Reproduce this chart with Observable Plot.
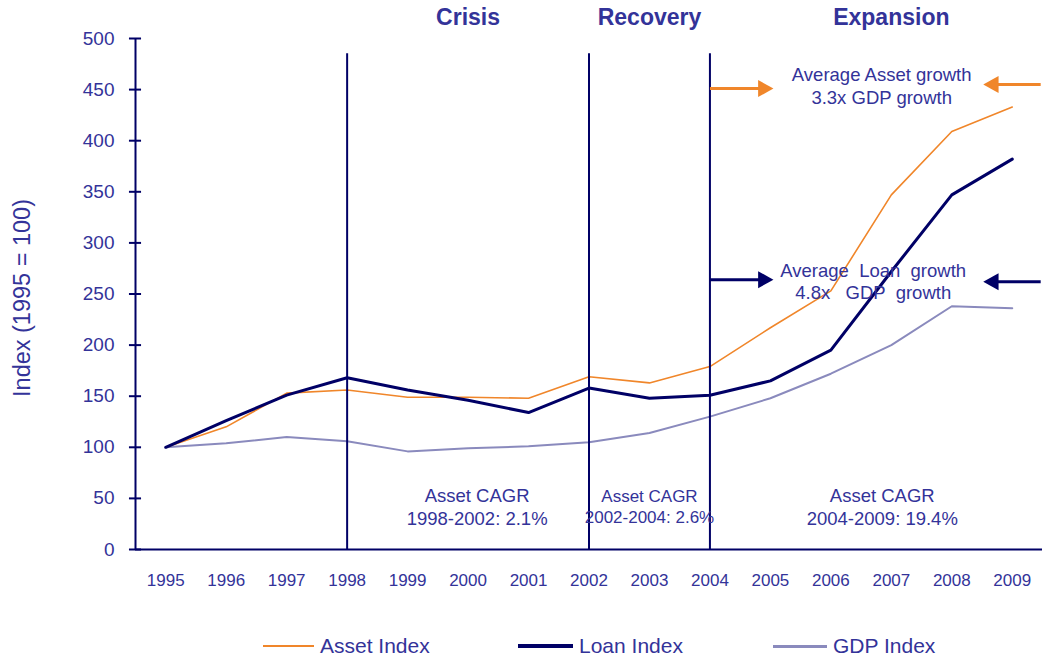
<!DOCTYPE html>
<html>
<head>
<meta charset="utf-8">
<script src="https://cdn.jsdelivr.net/npm/d3@7"></script>
<script src="https://cdn.jsdelivr.net/npm/@observablehq/plot@0.6"></script>
<style>
  html, body { margin: 0; padding: 0; background: #fff; }
  #wrap { position: relative; width: 1042px; height: 661px; font-family: "Liberation Sans", Arial, sans-serif; }
  svg text { white-space: pre; }
  .item { position: absolute; top: 634px; display: flex; align-items: center; font-size: 21px; color: #333399; }
  .sw { margin-right: 6px; }
</style>
</head>
<body>
<div id="wrap"></div>
<script>
// ---- data ----
const years = [1995, 1996, 1997, 1998, 1999, 2000, 2001, 2002, 2003, 2004, 2005, 2006, 2007, 2008, 2009];
const assetIndex = [100, 120, 153, 156, 149, 149, 148, 169, 163, 179, 217, 253, 347, 409, 433];
const loanIndex  = [100, 126, 151, 168, 156, 146, 134, 158, 148, 151, 165, 195, 272, 347, 382];
const gdpIndex   = [100, 104, 110, 106,  96,  99, 101, 105, 114, 130, 148, 172, 200, 238, 236];
const seriesNames = ["Asset Index", "Loan Index", "GDP Index"];
const yTicks = [0, 50, 100, 150, 200, 250, 300, 350, 400, 450, 500];
const dividers = [1998, 2002, 2004];
const periodNames = ["Crisis", "Recovery", "Expansion"];
const periodX = [2000, 2003, 2007];
const yTitle = "Index (1995 = 100)";
const cagrTexts = ["Asset CAGR\n1998-2002: 2.1%", "Asset CAGR\n2002-2004: 2.6%", "Asset CAGR\n2004-2009: 19.4%"];
const cagrX = [2000.15, 2003, 2006.85];
const assetNote = "Average Asset growth\n3.3x GDP growth";
const loanNote = "Average  Loan  growth\n4.8x   GDP  growth";

const colors = {asset: "#f0862a", loan: "#000066", gdp: "#8a8abd"};
const textColor = "#333399";
const axisColor = "#000066";

const rows = years.map((y, i) => ({year: y, asset: assetIndex[i], loan: loanIndex[i], gdp: gdpIndex[i]}));

// arrow specs (data units)
const arrows = [
  {x1: 2004, x2: 2005.05, y: 451, color: colors.asset, dir: "right"},
  {x1: 2009.47, x2: 2008.52, y: 455, color: colors.asset, dir: "left"},
  {x1: 2004, x2: 2005.05, y: 264, color: colors.loan, dir: "right"},
  {x1: 2009.47, x2: 2008.52, y: 262, color: colors.loan, dir: "left"}
];
const triRight = {draw(ctx, size) { const s = Math.sqrt(size / Math.PI); ctx.moveTo(0, 0); ctx.lineTo(-1.8 * s, -s); ctx.lineTo(-1.8 * s, s); ctx.closePath(); }};
const triLeft = {draw(ctx, size) { const s = Math.sqrt(size / Math.PI); ctx.moveTo(0, 0); ctx.lineTo(1.8 * s, -s); ctx.lineTo(1.8 * s, s); ctx.closePath(); }};

const chart = Plot.plot({
  width: 1042,
  height: 661,
  marginLeft: 135,
  marginRight: 0,
  marginTop: 38,
  marginBottom: 112,
  style: {fontFamily: "'Liberation Sans', Arial, sans-serif", background: "#fff"},
  x: {domain: [1994.5, 2009.5], axis: null},
  y: {domain: [0, 500], axis: null},
  marks: [
    // lines
    Plot.line(rows, {x: "year", y: "gdp", stroke: colors.gdp, strokeWidth: 2}),
    Plot.line(rows, {x: "year", y: "asset", stroke: colors.asset, strokeWidth: 1.6}),
    Plot.line(rows, {x: "year", y: "loan", stroke: colors.loan, strokeWidth: 3}),
    // period dividers
    Plot.ruleX(dividers, {x: d => d, y1: 0, y2: 485, stroke: axisColor, strokeWidth: 2}),
    // axes
    Plot.ruleX([1994.5], {y1: 0, y2: 500, stroke: axisColor, strokeWidth: 2}),
    Plot.ruleY([0], {stroke: axisColor, strokeWidth: 2}),
    Plot.ruleY(yTicks, {y: d => d, x1: 1994.4, x2: 1994.6, stroke: axisColor, strokeWidth: 2}),
    Plot.axisY(yTicks, {tickSize: 0, tickPadding: 21, fontSize: 19, fill: textColor, stroke: "none", label: null}),
    Plot.axisX(years, {tickSize: 0, tickPadding: 24, fontSize: 17, fill: textColor, stroke: "none", label: null, tickFormat: d => String(d)}),
    Plot.text([yTitle], {frameAnchor: "left", textAnchor: "middle", text: d => d, rotate: -90, dx: -113, dy: 4, fontSize: 23.5, fill: textColor}),
    // period titles
    Plot.text(periodNames, {x: (d, i) => periodX[i], y: 520, text: d => d, fontSize: 23, fontWeight: "bold", fill: textColor}),
    // CAGR notes
    Plot.text(cagrTexts, {x: (d, i) => cagrX[i], y: 42.5, text: d => d, fontSize: (d, i) => i === 1 ? 17 : 18.5, lineHeight: 1.25, fill: textColor}),
    // growth notes
    Plot.text([assetNote], {x: 2006.84, y: 454.5, text: d => d, fontSize: 18.5, lineHeight: 1.25, fill: textColor}),
    Plot.text([loanNote], {x: 2006.7, y: 263, text: d => d, fontSize: 18.5, lineHeight: 1.2, fill: textColor}),
    // arrows
    Plot.link(arrows, {x1: "x1", x2: d => d.x2 + (d.dir === "right" ? -0.15 : 0.15), y1: "y", y2: "y", stroke: "color", strokeWidth: 3}),
    Plot.dot(arrows.filter(a => a.dir === "right"), {x: "x2", y: "y", r: 8.5, symbol: triRight, fill: "color", stroke: "none"}),
    Plot.dot(arrows.filter(a => a.dir === "left"), {x: "x2", y: "y", r: 8.5, symbol: triLeft, fill: "color", stroke: "none"})
  ]
});

const wrap = document.getElementById("wrap");
wrap.appendChild(chart);

// legend
const legendColors = [colors.asset, colors.loan, colors.gdp];
const legendWidths = [2, 3.5, 3];
const legendSwatchW = [51, 55, 54];
const legendLeft = [263, 518, 773];
seriesNames.forEach((name, i) => {
  const item = document.createElement("div");
  item.className = "item";
  item.style.left = legendLeft[i] + "px";
  const sw = document.createElement("div");
  sw.className = "sw";
  sw.style.width = legendSwatchW[i] + "px";
  sw.style.height = legendWidths[i] + "px";
  sw.style.background = legendColors[i];
  const lbl = document.createElement("span");
  lbl.textContent = name;
  item.appendChild(sw);
  item.appendChild(lbl);
  wrap.appendChild(item);
});
</script>
</body>
</html>
